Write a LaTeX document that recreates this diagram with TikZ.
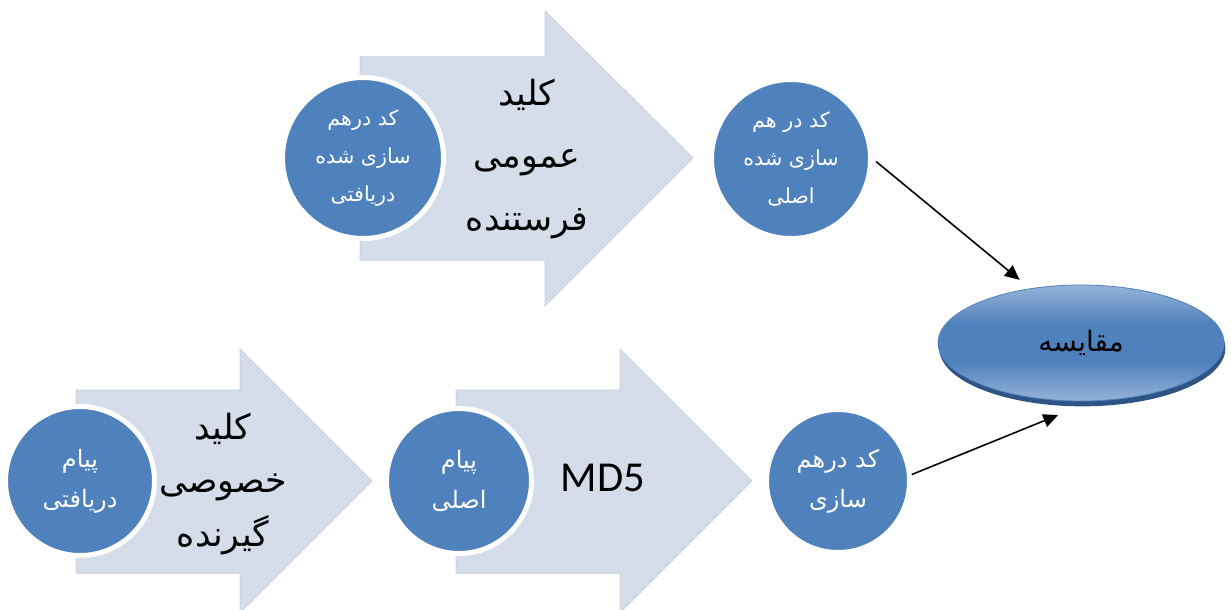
\documentclass[tikz,border=0pt]{standalone}
\usepackage{fontspec}
\setmainfont{Carlito}
\newfontfamily\farsi[Script=Arabic]{DejaVu Sans}
\TeXXeTstate=1
\usetikzlibrary{arrows.meta,shapes.geometric,shadows}
\definecolor{circblue}{HTML}{4F81BD}
\definecolor{arrowfill}{HTML}{D6DDEA}
\definecolor{arrowedge}{HTML}{CAD3E4}
\definecolor{ellipselight}{HTML}{95B3D7}
\definecolor{ellipserim}{HTML}{2E5486}
\pgfdeclareverticalshading{ellshade}{100bp}{color(0bp)=(ellipselight); color(25bp)=(ellipselight); color(42bp)=(circblue); color(58bp)=(circblue); color(75bp)=(ellipselight); color(100bp)=(ellipselight)}
\newcommand{\fa}[1]{{\farsi\beginR #1\endR}}
\tikzset{
  hashcirc/.style={circle,fill=circblue,draw=white,line width=3.75pt,text=white,align=center,inner sep=0pt},
  bigtext/.style={align=center,font=\fontsize{26}{47}\selectfont},
  conn/.style={-{Triangle[length=11pt,width=10pt]},line width=1.2pt},
}

\begin{document}
\begin{tikzpicture}[x=0.75pt,y=-0.75pt]
\useasboundingbox (0,0) rectangle (1231,610);
\filldraw[fill=arrowfill,draw=arrowedge,line width=0.75pt] (360,57) -- (545,57) -- (545,11) -- (693,158) -- (545,306) -- (545,260) -- (360,260) -- cycle;
\filldraw[fill=arrowfill,draw=arrowedge,line width=0.75pt] (76,390) -- (240,390) -- (240,349) -- (372,481) -- (240,613) -- (240,573) -- (76,573) -- cycle;
\filldraw[fill=arrowfill,draw=arrowedge,line width=0.75pt] (456,390) -- (620,390) -- (620,349) -- (752,481) -- (620,613) -- (620,573) -- (456,573) -- cycle;
\node[hashcirc,minimum size=120.75pt,font=\fontsize{15.5}{28.5}\selectfont] (recvhash) at (363,158) {\fa{کد درهم}\\\fa{سازی شده}\\\fa{دریافتی}};
\node[hashcirc,minimum size=119.25pt,font=\fontsize{15.5}{28.5}\selectfont] (orighash) at (791,159) {\fa{کد در هم}\\\fa{سازی شده}\\\fa{اصلی}};
\node[hashcirc,minimum size=111.75pt,font=\fontsize{18}{30}\selectfont] (recvmsg) at (80,481) {\fa{پیام}\\\fa{دریافتی}};
\node[hashcirc,minimum size=108.75pt,font=\fontsize{18}{30}\selectfont] (origmsg) at (459,481) {\fa{پیام}\\\fa{اصلی}};
\node[hashcirc,minimum size=107.25pt,font=\fontsize{18}{30}\selectfont] (hashcode) at (838,481) {\fa{کد درهم}\\\fa{سازی}};
\node[bigtext] (pubkey) at (527,159) {\fa{کلید}\\\fa{عمومی}\\\fa{فرستنده}};
\node[bigtext,font=\fontsize{26}{40}\selectfont] (privkey) at (223,484) {\fa{کلید}\\\fa{خصوصی}\\\fa{گیرنده}};
\node[font=\fontsize{32}{38}\selectfont] (md5) at (603,478) {MD5};
\node[ellipse,minimum width=214.5pt,minimum height=87pt,inner sep=0pt,outer sep=0pt,
  draw=circblue,line width=0.6pt,shading=ellshade,
  drop shadow={shadow xshift=1pt,shadow yshift=-4pt,fill=ellipserim,opacity=1},
  font=\fontsize{21}{25}\selectfont] (compare) at (1081,343) {\fa{مقایسه}};
\draw[conn,shorten <=3pt,shorten >=10.5pt] (orighash.east) -- (compare.133);
\draw[conn,shorten >=28.5pt] (hashcode.5) -- (compare.-78);
\end{tikzpicture}
\end{document}
